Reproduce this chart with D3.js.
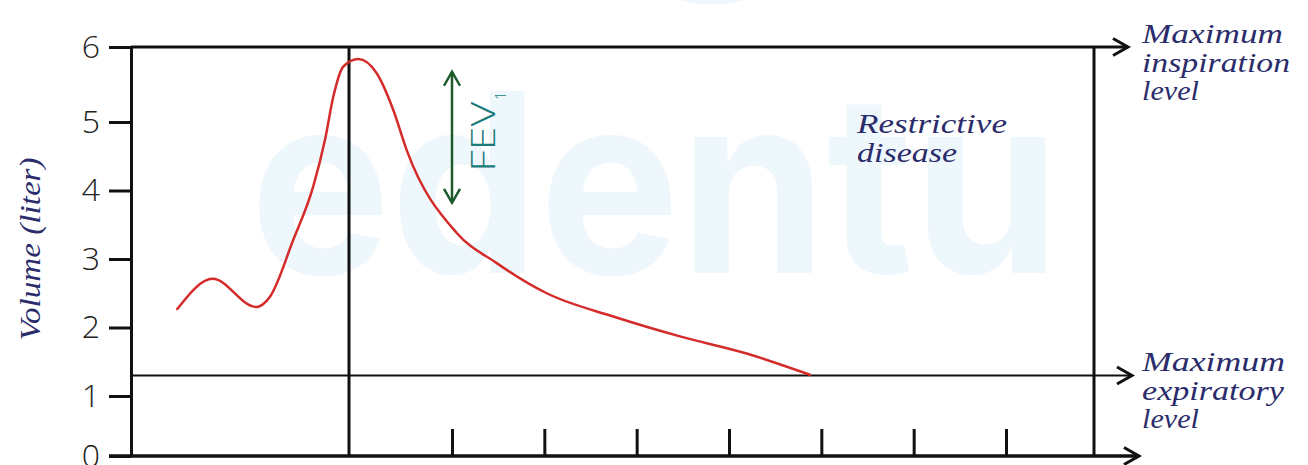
<!DOCTYPE html>
<html>
<head>
<meta charset="utf-8">
<script src="https://cdn.jsdelivr.net/npm/d3@7"></script>
<style>
  html, body { margin: 0; padding: 0; background: #fff; }
  svg { display: block; }
</style>
</head>
<body>
<div id="chart"></div>
<script>
// Spirogram - restrictive disease

// Data
const volumeTicks = [0, 1, 2, 3, 4, 5, 6];
const timeTicks = [1, 2, 3, 4, 5, 6, 7];
const levelNames = [['Maximum', 'inspiration', 'level'], ['Maximum', 'expiratory', 'level']];
const levelValues = [6, 1.3];
const flowTime = [-1.667, -1.323, -0.903, -0.767, -0.541, -0.347, -0.233, -0.152, -0.055, 0.09,
    0.269, 0.43, 0.56, 1.051, 1.484, 2.026, 2.747, 3.469, 4.191, 4.877];
const flowVolume = [2.27, 2.71, 2.3, 2.45, 3.28, 4.06, 4.74, 5.34, 5.74, 5.84,
    5.65, 5.16, 4.59, 3.38, 2.94, 2.5, 2.16, 1.87, 1.62, 1.31];
const fevTime = 1;
const fevVolume = [3.82, 5.67];
const noteLines = ['Restrictive', 'disease'];

const width = 1308, height = 465;
const axisX = 131;
const navy = '#2b2c6b', script = '"Liberation Serif", serif';
// widths of the handwritten words in the picture
const levelWidths = [[141, 148, 57], [143, 142, 57]];
const noteWidths = [150, 100];

const svg = d3.select('#chart').append('svg')
    .attr('width', width).attr('height', height);

// Scales (hand-drawn grid, so piecewise)
const x = d3.scaleLinear().domain([0, 1, 7, 8]).range([349, 452, 1006, 1094]);
const y = d3.scaleLinear().domain([0, 1, 5, 6]).range([456, 396, 122, 47]);

// Watermark
svg.append('ellipse')
    .attr('cx', 712).attr('cy', -62).attr('rx', 98).attr('ry', 66)
    .attr('fill', '#eef7fb');
svg.append('text')
    .attr('x', 250).attr('y', 273)
    .attr('font-family', 'Inter, sans-serif').attr('font-weight', 700)
    .attr('font-size', 250)
    .attr('textLength', 810).attr('lengthAdjust', 'spacingAndGlyphs')
    .attr('fill', '#eef7fb')
    .text('edentu');

// Arrow-ended horizontal line
function hArrow(x0, x1, yy, w){
    svg.append('line')
        .attr('x1', x0).attr('x2', x1).attr('y1', yy).attr('y2', yy)
        .attr('stroke', '#111').attr('stroke-width', w);
    svg.append('path')
        .attr('d', `M${x1-15},${yy-8.5}L${x1},${yy}L${x1-15},${yy+8.5}`)
        .attr('fill', 'none').attr('stroke', '#111').attr('stroke-width', 3);
}

// Vertical frame lines
[0, 8].forEach(t => {
    svg.append('line')
        .attr('x1', x(t)).attr('x2', x(t)).attr('y1', y(6)).attr('y2', y(0))
        .attr('stroke', '#111').attr('stroke-width', 3);
});

// Level lines
hArrow(axisX, x(8) + 34, y(levelValues[0]), 3);
hArrow(axisX, x(8) + 38, y(levelValues[1]), 2);

// Y axis
const yAxis = svg.append('g')
    .attr('transform', `translate(${axisX},0)`)
    .call(d3.axisLeft(y).tickValues(volumeTicks).tickFormat(d3.format('d'))
        .tickSizeInner(22).tickSizeOuter(0).tickPadding(9));
yAxis.select('.domain').attr('stroke', '#111').attr('stroke-width', 3);
yAxis.selectAll('.tick line').attr('stroke', '#111').attr('stroke-width', 3);
yAxis.selectAll('.tick text')
    .attr('font-family', '"Open Sans", sans-serif').attr('font-weight', 300)
    .attr('font-size', 32).attr('fill', '#222');

// X axis: ticks only, pointing up
const xAxis = svg.append('g')
    .attr('transform', `translate(0,${y(0)})`)
    .call(d3.axisBottom(x).tickValues(timeTicks).tickSizeInner(-27).tickSizeOuter(0).tickFormat(() => ''));
xAxis.select('.domain').remove();
xAxis.selectAll('.tick line').attr('stroke', '#111').attr('stroke-width', 3);
hArrow(axisX - 22, x(8) + 45, y(0), 3.5);

// Y title
svg.append('text')
    .attr('transform', `translate(40,${(y(2) + y(4)) / 2 - 10}) rotate(-90)`)
    .attr('text-anchor', 'middle')
    .attr('font-family', script).attr('font-style', 'italic')
    .attr('font-size', 30).attr('fill', navy)
    .attr('textLength', 183).attr('lengthAdjust', 'spacingAndGlyphs')
    .text('Volume (liter)');

// Flow curve
const line = d3.line()
    .x(d => x(d[0])).y(d => y(d[1]))
    .curve(d3.curveMonotoneX);
svg.append('path')
    .datum(d3.zip(flowTime, flowVolume))
    .attr('d', line)
    .attr('fill', 'none').attr('stroke', '#d42b2b').attr('stroke-width', 2.5)
    .attr('stroke-linecap', 'round');

// FEV1 arrow
const fx = x(fevTime), fy0 = y(fevVolume[1]), fy1 = y(fevVolume[0]);
svg.append('line')
    .attr('x1', fx).attr('x2', fx).attr('y1', fy0).attr('y2', fy1)
    .attr('stroke', '#1d5a2c').attr('stroke-width', 2.5);
svg.append('path')
    .attr('d', `M${fx-8},${fy0+14}L${fx},${fy0}L${fx+8},${fy0+14}M${fx-8},${fy1-14}L${fx},${fy1}L${fx+8},${fy1-14}`)
    .attr('fill', 'none').attr('stroke', '#1d5a2c').attr('stroke-width', 2.5);
const fev = svg.append('text')
    .attr('transform', `translate(${fx + 43},${fy1 - 31}) rotate(-90)`)
    .attr('font-family', '"Open Sans", sans-serif').attr('font-weight', 300)
    .attr('font-size', 33).attr('fill', '#1b7b7c');
fev.append('tspan').attr('textLength', 70).attr('lengthAdjust', 'spacingAndGlyphs').text('FEV');
fev.append('tspan').attr('font-size', 14).attr('dy', 11).attr('dx', 2).text('1');

// Stacked handwritten words
function wordStack(x0, y0, words, widths, gap){
    words.forEach((w, j) => {
        svg.append('text')
            .attr('x', x0).attr('y', y0 + j * gap)
            .attr('font-family', script).attr('font-style', 'italic')
            .attr('font-size', 27).attr('fill', navy)
            .attr('textLength', widths[j]).attr('lengthAdjust', 'spacingAndGlyphs')
            .text(w);
    });
}

// Level labels
levelNames.forEach((lines, i) => {
    wordStack(1142, y(levelValues[i]) - 4, lines, levelWidths[i], 28.5);
});

// Note
wordStack(857, 133, noteLines, noteWidths, 29);
</script>
</body>
</html>
